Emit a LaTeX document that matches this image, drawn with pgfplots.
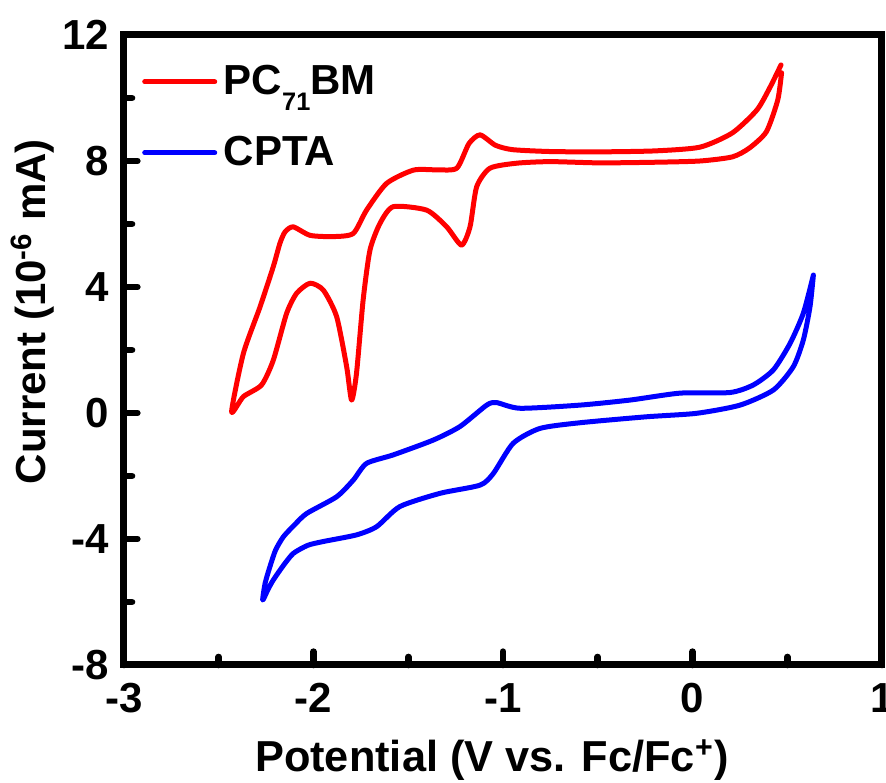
\documentclass[border=0pt]{standalone}
\usepackage{pgfplots}
\pgfplotsset{compat=1.18}
\usepackage{fontspec}
\setmainfont{Liberation Sans}

\begin{document}
\begin{tikzpicture}[font=\bfseries\fontsize{12.6}{14}\selectfont]
\begin{axis}[
  at={(0,0)}, anchor=south west,
  scale only axis,
  width=227.4pt, height=189pt,
  xmin=-3, xmax=1, ymin=-8, ymax=12,
  xtick={-3,-2,...,1}, ytick={-8,-4,...,12},
  minor x tick num=1, minor y tick num=1,
  xtick pos=left, ytick pos=left,
  tick align=inside,
  major tick length=4pt, minor tick length=2.4pt,
  every tick/.style={black, line width=2pt, line cap=round},
  axis line style={line width=2.1pt},
  /pgf/number format/assume math mode=true,
  ticklabel style={font=\bfseries\fontsize{12.6}{14}\selectfont},
  xticklabel style={yshift=-2pt},
  yticklabel style={xshift=-1pt},
  xlabel={Potential (V vs. Fc/Fc\textsuperscript{+})},
  ylabel={Current (10\textsuperscript{-6} mA)},
  label style={font=\bfseries\fontsize{12.6}{14}\selectfont},
  xlabel style={yshift=-1pt, xshift=-3.3pt, font=\bfseries\fontsize{13}{14}\selectfont},
  ylabel style={yshift=-4.6pt, xshift=11.5pt},
  legend style={draw=none, fill=none, at={(0.01,0.975)}, anchor=north west,
    row sep=7pt, font=\bfseries\fontsize{12.6}{14}\selectfont},
  legend cell align=left,
  legend image code/.code={\draw[#1, line width=1.5pt, line cap=round] (0pt,0pt) -- (21pt,0pt);},
]
\addplot[red, line width=1.5pt, smooth, tension=0.4, line cap=round, line join=round] coordinates {
(0.467,11.05) (0.41,10.35) (0.34,9.62) (0.21,8.89) (0.04,8.44) (-0.2,8.32)
(-0.49,8.29) (-0.75,8.30) (-0.95,8.36) (-1.04,8.5) (-1.121,8.83) (-1.18,8.55)
(-1.244,7.77) (-1.35,7.72) (-1.473,7.71) (-1.614,7.29) (-1.72,6.44) (-1.79,5.70)
(-1.895,5.60) (-2.018,5.64) (-2.107,5.91) (-2.15,5.75) (-2.177,5.39) (-2.212,4.65)
(-2.282,3.37) (-2.37,1.89) (-2.432,0.04)
(-2.37,0.52) (-2.274,0.89) (-2.212,1.68) (-2.142,3.16) (-2.089,3.80) (-2.018,4.12)
(-1.948,3.90) (-1.878,3.06) (-1.825,1.47) (-1.799,0.41) (-1.773,1.26) (-1.738,3.59)
(-1.702,5.17) (-1.649,6.02) (-1.579,6.55) (-1.403,6.44) (-1.297,5.91) (-1.219,5.33)
(-1.174,5.91) (-1.139,7.18) (-1.069,7.77) (-0.928,7.93) (-0.752,7.98) (-0.49,7.94)
(-0.2,7.96) (0.04,8.0) (0.21,8.13) (0.30,8.41) (0.39,8.93) (0.45,9.94) (0.47,10.8)
};
\addlegendentry{PC\raisebox{-5pt}{\fontsize{7.6}{8}\selectfont 71}BM}
\addplot[blue, line width=1.5pt, smooth, tension=0.4, line cap=round, line join=round] coordinates {
(0.638,4.38) (0.585,3.17) (0.515,2.21) (0.427,1.37) (0.321,0.89) (0.198,0.65)
(-0.066,0.63) (-0.33,0.41) (-0.594,0.25) (-0.91,0.15) (-1.034,0.33) (-1.086,0.25)
(-1.227,-0.43) (-1.368,-0.86) (-1.579,-1.33) (-1.72,-1.60) (-1.79,-2.13) (-1.878,-2.66)
(-2.036,-3.19) (-2.1,-3.55) (-2.159,-3.93) (-2.2,-4.35) (-2.23,-4.88) (-2.255,-5.4) (-2.268,-5.94)
(-2.24,-5.6) (-2.212,-5.30) (-2.16,-4.85) (-2.107,-4.46) (-2.03,-4.2) (-1.948,-4.08)
(-1.773,-3.87) (-1.667,-3.61) (-1.544,-2.97)
(-1.332,-2.55) (-1.121,-2.29) (-1.051,-1.92) (-0.946,-0.96) (-0.805,-0.49) (-0.594,-0.31)
(-0.242,-0.12) (0.022,-0.01) (0.251,0.25) (0.427,0.73) (0.532,1.47) (0.585,2.32)
(0.62,3.37) (0.638,4.38)
};
\addlegendentry{CPTA}
\end{axis}
\pgfresetboundingbox
\useasboundingbox (-37.2pt,-35.4pt) rectangle (228.6pt,199.5pt);
\end{tikzpicture}
\end{document}
